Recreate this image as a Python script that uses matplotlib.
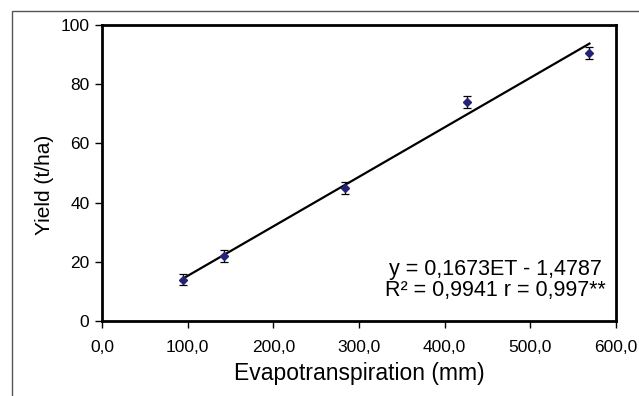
import matplotlib.pyplot as plt
import numpy as np
from matplotlib.patches import Rectangle

# Données
et = [95, 142, 284, 426, 569]
rendement = [14.0, 22.0, 44.8, 74.0, 90.6]
erreur = [1.8, 2.0, 2.0, 1.9, 2.0]

pente = 0.1673
ordonnee = -1.4787

x_ticks = [0, 100, 200, 300, 400, 500, 600]
x_labels = ["0,0", "100,0", "200,0", "300,0", "400,0", "500,0", "600,0"]
y_ticks = [0, 20, 40, 60, 80, 100]

plt.rcParams['font.family'] = ['Liberation Sans', 'DejaVu Sans']

fig = plt.figure(figsize=(6.39, 3.96), dpi=100)
ax = fig.add_axes([102 / 639, 1 - 321 / 396, 514 / 639, 296 / 396])

# Cadre gris extérieur
fig.patches.append(Rectangle((12 / 639, -0.1), 1.0, 1 - 11 / 396 + 0.1,
                             transform=fig.transFigure, fill=False,
                             edgecolor="#555555", linewidth=1.0))

# Droite de régression
xr = np.array([min(et), max(et)])
ax.plot(xr, pente * xr + ordonnee, color="black", linewidth=1.6, zorder=2)

# Points avec barres d'erreur
ax.errorbar(et, rendement, yerr=erreur, fmt="D", color="#23237a",
            markersize=4.5, ecolor="black", elinewidth=0.9, capsize=3,
            capthick=0.9, zorder=3)

ax.set_xlim(0, 600)
ax.set_ylim(0, 100)
ax.set_xticks(x_ticks)
ax.set_xticklabels(x_labels)
ax.set_yticks(y_ticks)

for s in ax.spines.values():
    s.set_linewidth(2)
    s.set_color("black")

ax.tick_params(axis="both", direction="out", length=5, width=1,
               labelsize=12.5, colors="black")
ax.tick_params(axis="x", pad=9)
ax.tick_params(axis="y", pad=4)

ax.set_xlabel("Evapotranspiration (mm)", fontsize=16.5, labelpad=5)
ax.set_ylabel("Yield (t/ha)", fontsize=15, labelpad=5)
ax.yaxis.set_label_coords(-0.093, 0.46)

ax.text(0.9805, 0.138, "y = 0,1673ET - 1,4787\nR² = 0,9941 r = 0,997**",
        transform=ax.transAxes, ha="right", va="center", fontsize=15.5,
        multialignment="center", linespacing=1.0)

plt.savefig("out.png", dpi=100)
